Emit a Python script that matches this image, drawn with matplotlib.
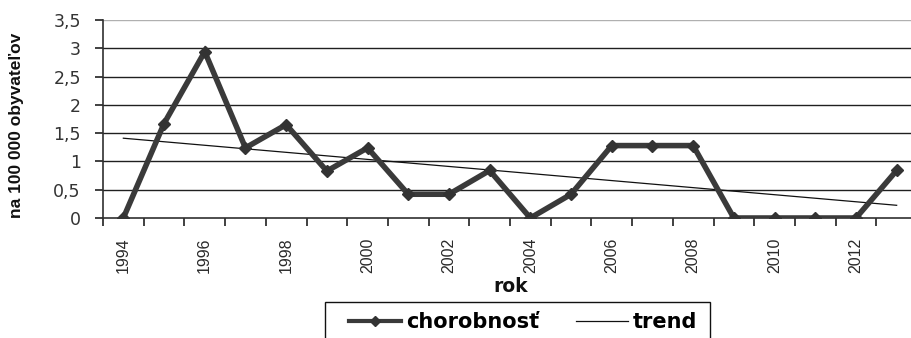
import numpy as np
import matplotlib
matplotlib.use("Agg")
import matplotlib.pyplot as plt
from matplotlib.patches import Rectangle
from matplotlib.ticker import FuncFormatter, FixedLocator

plt.rcParams['font.family'] = ['Liberation Sans', 'DejaVu Sans']

years = list(range(1994, 2014))
chorobnost = [0, 1.67, 2.94, 1.24, 1.65, 0.83, 1.24, 0.42, 0.42, 0.84,
              0, 0.42, 1.28, 1.28, 1.28, 0, 0, 0, 0, 0.84]
y_ticks = [0, 0.5, 1, 1.5, 2, 2.5, 3, 3.5]

x = np.arange(len(years))
slope, intercept = np.polyfit(x, chorobnost, 1)
trend = slope * x + intercept

W, H = 911, 338
fig = plt.figure(figsize=(W / 100, H / 100), dpi=100)
ax = fig.add_axes([103 / W, 120 / H, 814 / W, 198 / H])

for v in y_ticks[1:]:
    ax.axhline(v, color='#b0b0b0' if v == 3.5 else '#202020', lw=1.0, zorder=1)

ax.plot(x, chorobnost, color='#3a3a3a', lw=4.0, marker='D', markersize=6,
        markerfacecolor='#333333', markeredgecolor='#333333', label='chorobnosť',
        zorder=3, solid_joinstyle='miter')
ax.plot(x, trend, color='#111111', lw=0.9, label='trend', zorder=2)

ax.set_xlim(-0.5, len(years) - 0.5)
ax.set_ylim(0, 3.5)
ax.set_yticks(y_ticks)
ax.yaxis.set_major_formatter(FuncFormatter(lambda v, p: f"{v:g}".replace('.', ',')))

ax.xaxis.set_major_locator(FixedLocator(np.arange(-0.5, len(years), 1)))
ax.xaxis.set_minor_locator(FixedLocator(x[::2]))
ax.set_xticklabels([])
ax.set_xticklabels([str(y) for y in years[::2]], minor=True, rotation=90)
ax.tick_params(axis='x', which='major', length=6, width=1.2, color='#202020', direction='out')
ax.tick_params(axis='x', which='minor', length=0, pad=14, labelsize=11.5, labelcolor='#2a2a2a')
ax.tick_params(axis='y', length=6, width=1.2, color='#202020', labelsize=12.5,
               labelcolor='#333333', pad=10)
for lbl in ax.get_yticklabels():
    lbl.set_fontfamily('DejaVu Sans')

for s in ['top', 'right']:
    ax.spines[s].set_visible(False)
for s in ['left', 'bottom']:
    ax.spines[s].set_color('#303030')
    ax.spines[s].set_linewidth(1.2)

ax.set_ylabel('na 100 000 obyvateľov', fontsize=12.5, fontweight='bold', color='#111111')
ax.yaxis.label.set_va('center')
ax.yaxis.set_label_coords((17 - 103) / 814, ((H - 125.5) - 120) / 198)

fig.text(511 / W, 1 - 287 / H, 'rok', ha='center', va='center', fontsize=13.5,
         fontweight='bold', color='#111111', family='DejaVu Sans')

# legend frame, open at the bottom edge of the figure
fig.patches.append(Rectangle((325 / W, -0.05), (710 - 325) / W, 0.05 + (H - 302) / H,
                             transform=fig.transFigure, fill=False,
                             edgecolor='#111111', lw=1.0))
leg = fig.legend(loc='center left', bbox_to_anchor=(349 / W, 1 - 322 / H), ncol=2,
                 frameon=False, borderaxespad=0, borderpad=0,
                 prop={'weight': 'bold', 'size': 15, 'family': 'DejaVu Sans'},
                 handlelength=2.5, columnspacing=1.75, handletextpad=0.25)
for line in leg.get_lines():
    line.set_markersize(5)
leg.get_lines()[0].set_linewidth(3.0)

fig.savefig('out.png', dpi=100)
